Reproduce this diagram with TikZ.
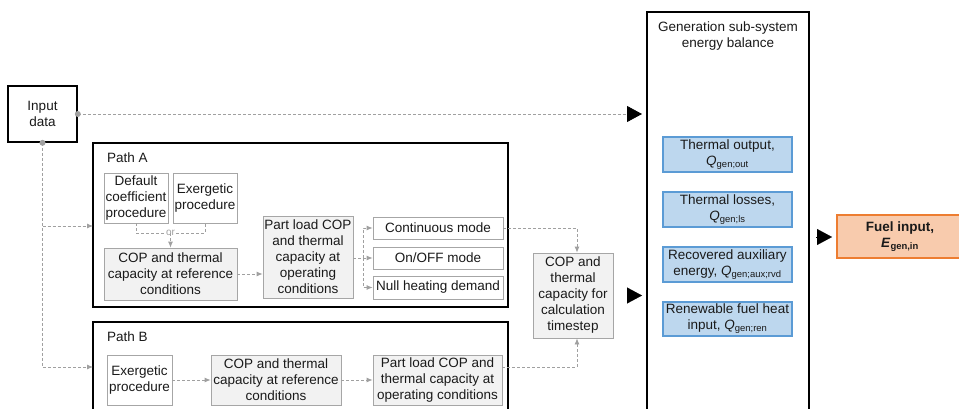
\documentclass[tikz,border=0pt]{standalone}
\usepackage{fontspec}
\setmainfont{Liberation Sans}
\usetikzlibrary{arrows.meta,calc}
\definecolor{bxc}{HTML}{A6A6A6}
\definecolor{gfc}{HTML}{F2F2F2}
\definecolor{bfc}{HTML}{BDD7EE}
\definecolor{bdc}{HTML}{5B9BD5}
\definecolor{ofc}{HTML}{F8CBAD}
\definecolor{odc}{HTML}{ED7D31}
\definecolor{dlc}{HTML}{A0A0A0}
\definecolor{txc}{HTML}{1A1A1A}
\begin{document}
\begin{tikzpicture}[x=1pt,y=-1pt,
  every node/.style={font=\fontsize{13.5}{16}\selectfont, align=center, inner sep=0pt, text=txc},
  blkbox/.style={draw=black, line width=1.6pt},
  wbox/.style={draw=bxc, fill=white, line width=0.8pt},
  gbox/.style={draw=bxc, fill=gfc, line width=0.8pt},
  bbox/.style={draw=bdc, fill=bfc, line width=1.2pt},
  obox/.style={draw=odc, fill=ofc, line width=1.2pt},
  dashln/.style={draw=dlc, line width=0.8pt, dash pattern=on 3pt off 2pt},
  garrow/.style={dashln, -{Latex[length=6pt,width=5pt,color=dlc]}},
  bigtip/.style={black, line width=0.1pt, -{Triangle[length=15pt,width=16pt,color=black]}}
]
\clip (0,0) rectangle (959,409);
\fill[white] (0,0) rectangle (959,409);

% input
\node[blkbox, minimum width=69pt, minimum height=56pt] (in) at (42.5,114) {Input\\data};

% path boxes
\node[blkbox, minimum width=415pt, minimum height=164pt] (pathA) at (300.5,225) {};
\node[blkbox, minimum width=415pt, minimum height=98pt] (pathB) at (300.5,371) {};
\node[anchor=west] (labA) at (107,158) {Path A};
\node[anchor=west] (labB) at (107,337) {Path B};

% generation box
\node[blkbox, minimum width=162pt, minimum height=418pt] (ge) at (728,221) {};
\node (getitle) at (728,36) {Generation sub-system\\energy balance};
\node[bbox, minimum width=129pt, minimum height=35pt] (to) at (727.5,154.5) {Thermal output,\\\textit{Q}\textsubscript{gen;out}};
\node[bbox, minimum width=129pt, minimum height=35pt] (tl) at (727.5,209.5) {Thermal losses,\\\textit{Q}\textsubscript{gen;ls}};
\node[bbox, minimum width=129pt, minimum height=35pt] (ra) at (727.5,264.5) {Recovered auxiliary\\energy, \textit{Q}\textsubscript{gen;aux;rvd}};
\node[bbox, minimum width=129pt, minimum height=34pt] (rf) at (727.5,319) {Renewable fuel heat\\input, \textit{Q}\textsubscript{gen;ren}};

% fuel
\node[obox, minimum width=126pt, minimum height=43pt] (fuel) at (900,236.5) {\textbf{Fuel input,}\\\textbf{\textit{E}}\textsubscript{\textbf{gen,in}}};

% path A content
\node[wbox, minimum width=64pt, minimum height=50pt] (dc) at (136,198) {Default\\coefficient\\procedure};
\node[wbox, minimum width=64pt, minimum height=50pt] (ex) at (205,198) {Exergetic\\procedure};
\node[gbox, minimum width=133pt, minimum height=52pt] (copA) at (170.5,274) {COP and thermal\\capacity at reference\\conditions};
\node[gbox, minimum width=90pt, minimum height=82pt] (plA) at (308,257) {Part load COP\\and thermal\\capacity at\\operating\\conditions};
\node[wbox, minimum width=130pt, minimum height=22pt] (cm) at (438,228) {Continuous mode};
\node[wbox, minimum width=130pt, minimum height=22pt] (om) at (438,258) {On/OFF mode};
\node[wbox, minimum width=130pt, minimum height=23pt] (nh) at (438,287.5) {Null heating demand};

% timestep box
\node[gbox, minimum width=80pt, minimum height=85pt] (copT) at (573,295.5) {COP and\\thermal\\capacity for\\calculation\\timestep};

% path B content
\node[wbox, minimum width=65pt, minimum height=50pt] (exB) at (139.5,380) {Exergetic\\procedure};
\node[gbox, minimum width=130pt, minimum height=50pt] (copB) at (276,380) {COP and thermal\\capacity at reference\\conditions};
\node[gbox, minimum width=129pt, minimum height=50pt] (plB) at (437.5,380) {Part load COP and\\thermal capacity at\\operating conditions};

% coordinates
\coordinate (pain) at (93,226);
\coordinate (pbin) at (93,367);
\coordinate (orj) at (170.5,233);
\coordinate (bus) at (363,258);
\coordinate (tsx) at (577,0);
\coordinate (gtip) at (642,0);
\coordinate (gtail) at (627,0);

% connectors from input
\draw[dashln, -{Triangle[length=15pt,width=16pt,color=black]}] (in.east) -- (in.east -| gtip);
\draw[garrow] (in.south) |- (pbin);
\draw[garrow] (in.south |- pain) -- (pain);
\fill[dlc] (in.east) circle (3pt);
\fill[dlc] (in.south) circle (3pt);

% path A connectors
\draw[dashln] (dc.south) |- (orj) -| (ex.south);
\node[fill=white, inner xsep=1pt, font=\fontsize{10}{11}\selectfont, text=dlc] (ortext) at (orj) {or};
\draw[garrow] (orj) -- (copA.north);
\draw[garrow] (copA.east) -- (copA.east -| plA.west);
\draw[dashln] (plA.east |- bus) -- (bus);
\draw[garrow] (bus) -- (om.west);
\draw[garrow] (bus) |- (cm.west);
\draw[garrow] (bus) |- (nh.west);
\draw[garrow] (cm.east) -| (tsx |- copT.north);

% path B connectors
\draw[garrow] (exB.east) -- (copB.west);
\draw[garrow] (copB.east) -- (plB.west);
\draw[garrow] (plB.east |- pbin) -| (tsx |- copT.south);

% big black arrows
\draw[bigtip] (copT.east -| gtail) -- (copT.east -| gtip);
\coordinate (ftail) at (816,237);
\coordinate (ftip) at (832,237);
\draw[bigtip] (ftail) -- (ftip);
\end{tikzpicture}
\end{document}
